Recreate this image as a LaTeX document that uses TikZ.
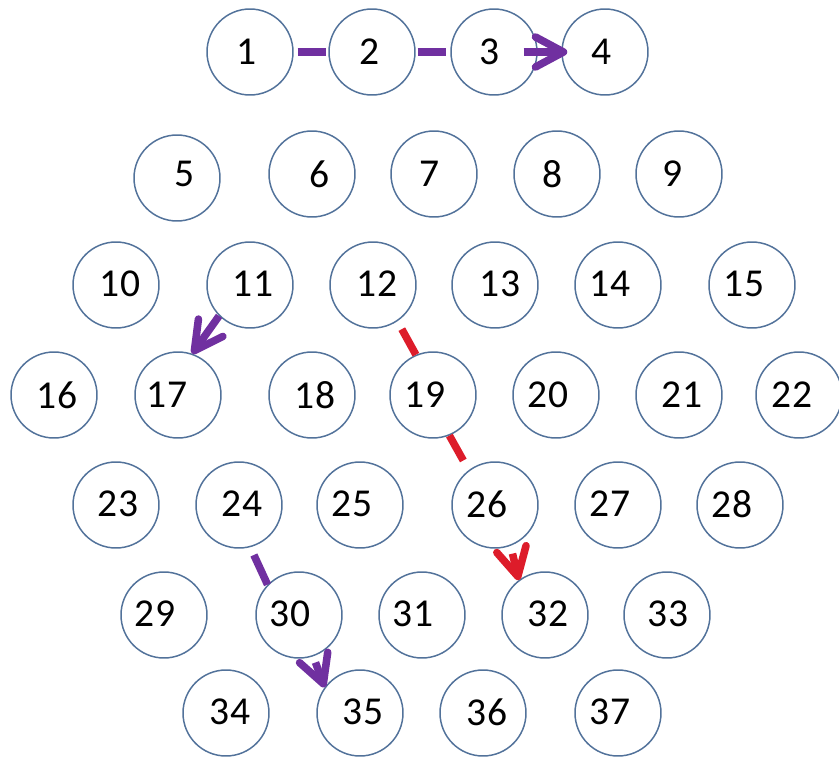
\documentclass[tikz,border=0pt]{standalone}
\usepackage{fontspec}
\setmainfont{Carlito}
\usetikzlibrary{arrows.meta}
\definecolor{RingBlue}{HTML}{52729A}
\definecolor{LinkPurple}{HTML}{7030A0}
\definecolor{LinkRed}{HTML}{DD1C2A}

\begin{document}
\begin{tikzpicture}[x=0.02cm,y=-0.02cm,
  ball/.style={circle,draw=RingBlue,line width=0.85pt,minimum size=1.72cm,inner sep=0pt},
  num/.style={font=\fontsize{22.5}{26}\selectfont,text=black,inner sep=0pt},
  link/.style={line width=4.3pt},
  tipped/.style={line width=4.3pt,-{Straight Barb[length=0.56cm,width=0.6cm,round]}}]
\useasboundingbox (0,0) rectangle (839,757);
% top row
\node[ball] (n1) at (250,52) {}; \node[num] (t1) at (247,52) {1};
\node[ball] (n2) at (372,52) {}; \node[num] (t2) at (370,52) {2};
\node[ball] (n3) at (494,52) {}; \node[num] (t3) at (490,52) {3};
\node[ball] (n4) at (605,52) {}; \node[num] (t4) at (602,52) {4};
% second row
\node[ball] (n5) at (177,178) {}; \node[num] (t5) at (185,174) {5};
\node[ball] (n6) at (312,174) {}; \node[num] (t6) at (320,174) {6};
\node[ball] (n7) at (434,174) {}; \node[num] (t7) at (430,174) {7};
\node[ball] (n8) at (557,174) {}; \node[num] (t8) at (553,174) {8};
\node[ball] (n9) at (679,174) {}; \node[num] (t9) at (673,174) {9};
% third row
\node[ball] (n10) at (116,285) {}; \node[num] (t10) at (120,284) {10};
\node[ball] (n11) at (250,285) {}; \node[num] (t11) at (253,284) {11};
\node[ball] (n12) at (373,285) {}; \node[num] (t12) at (377,284) {12};
\node[ball] (n13) at (495,285) {}; \node[num] (t13) at (500,284) {13};
\node[ball] (n14) at (618,285) {}; \node[num] (t14) at (610,284) {14};
\node[ball] (n15) at (752,285) {}; \node[num] (t15) at (744,284) {15};
% fourth row
\node[ball] (n16) at (54,395) {}; \node[num] (t16) at (57,395) {16};
\node[ball] (n17) at (178,395) {}; \node[num] (t17) at (167,395) {17};
\node[ball] (n18) at (312,395) {}; \node[num] (t18) at (315,395) {18};
\node[ball] (n19) at (433,395) {}; \node[num] (t19) at (425,395) {19};
\node[ball] (n20) at (556,395) {}; \node[num] (t20) at (548,395) {20};
\node[ball] (n21) at (679,395) {}; \node[num] (t21) at (682,395) {21};
\node[ball] (n22) at (799,395) {}; \node[num] (t22) at (792,395) {22};
% fifth row
\node[ball] (n23) at (116,505) {}; \node[num] (t23) at (118,504) {23};
\node[ball] (n24) at (239,505) {}; \node[num] (t24) at (242,504) {24};
\node[ball] (n25) at (360,505) {}; \node[num] (t25) at (352,504) {25};
\node[ball] (n26) at (495,505) {}; \node[num] (t26) at (487,504) {26};
\node[ball] (n27) at (618,505) {}; \node[num] (t27) at (610,504) {27};
\node[ball] (n28) at (740,505) {}; \node[num] (t28) at (732,504) {28};
% sixth row
\node[ball] (n29) at (164,615) {}; \node[num] (t29) at (155,614) {29};
\node[ball] (n30) at (299,615) {}; \node[num] (t30) at (290,614) {30};
\node[ball] (n31) at (422,615) {}; \node[num] (t31) at (413,614) {31};
\node[ball] (n32) at (545,615) {}; \node[num] (t32) at (548,614) {32};
\node[ball] (n33) at (667,615) {}; \node[num] (t33) at (668,614) {33};
% bottom row
\node[ball] (n34) at (226,713) {}; \node[num] (t34) at (230,712) {34};
\node[ball] (n35) at (360,713) {}; \node[num] (t35) at (363,712) {35};
\node[ball] (n36) at (483,713) {}; \node[num] (t36) at (487,712) {36};
\node[ball] (n37) at (618,713) {}; \node[num] (t37) at (610,712) {37};
% purple path along the top
\draw[link,LinkPurple,shorten <=0.08cm,shorten >=0.04cm] (n1.east) -- (n2.west);
\draw[link,LinkPurple,shorten <=0.04cm,shorten >=0.08cm] (n2.east) -- (n3.west);
\draw[tipped,LinkPurple,shorten <=-0.28cm,shorten >=-0.12cm] (n3.east) -- (n4.west);
\draw[tipped,LinkPurple] (n11.225) -- (n17.71);
% red path
\draw[link,LinkRed,shorten <=0.18cm] (n12.-56) -- (n19.113);
\draw[link,LinkRed,shorten >=0.22cm] (n19.-68) -- (n26.127);
\draw[tipped,LinkRed,shorten <=0.16cm] (n26.-69) -- (n32.127);
% purple path at the bottom
\draw[link,LinkPurple,shorten <=0.17cm] (n24.-75) -- (n30.136);
\draw[tipped,LinkPurple,shorten <=0.13cm] (n30.-71) -- (n35.144);
\end{tikzpicture}
\end{document}
